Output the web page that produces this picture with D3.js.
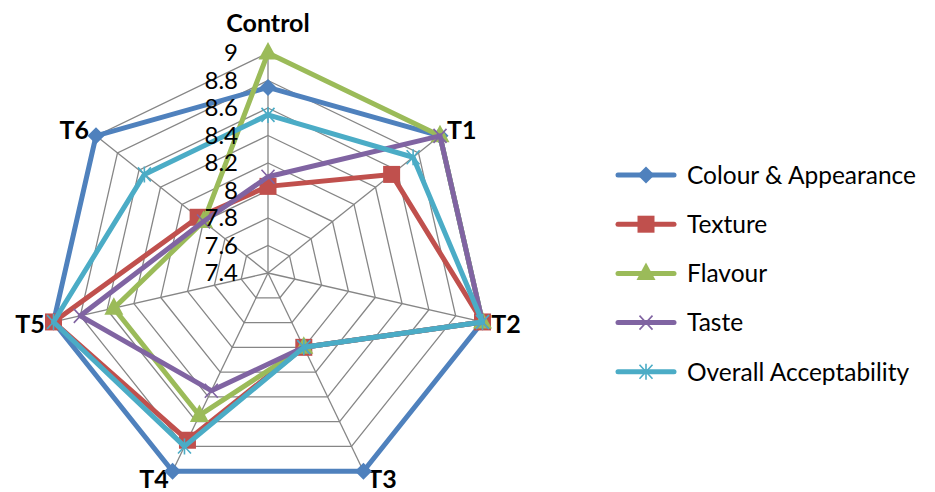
<!DOCTYPE html>
<html>
<head>
<meta charset="utf-8">
<script src="https://cdn.jsdelivr.net/npm/d3@7"></script>
<style>
  html, body { margin: 0; padding: 0; background: #fff; }
  svg { display: block; font-family: Lato, 'Open Sans', sans-serif; }
</style>
</head>
<body>
<svg id="chart" width="935" height="492"></svg>
<script>
'use strict';

// categories (spokes), clockwise from the top
const categories = [ 'Control', 'T1', 'T2', 'T3', 'T4', 'T5', 'T6' ];

// sensory scores per treatment
const colourAppearance      = [ 8.75, 9.00, 9.00, 9.00, 9.00, 9.00, 9.00 ];
const texture               = [ 8.03, 8.55, 9.00, 8.00, 8.75, 9.00, 8.05 ];
const flavour               = [ 9.00, 9.00, 9.00, 8.00, 8.55, 8.55, 8.00 ];
const taste                 = [ 8.10, 9.00, 9.00, 8.00, 8.35, 8.80, 8.00 ];
const overallAcceptability  = [ 8.55, 8.75, 9.00, 8.00, 8.80, 9.00, 8.55 ];

// radial axis tick labels
const tickValues = [ 7.4, 7.6, 7.8, 8.0, 8.2, 8.4, 8.6, 8.8, 9.0 ];
const tickLabels = [ '7.4', '7.6', '7.8', '8', '8.2', '8.4', '8.6', '8.8', '9' ];

const seriesNames = [ 'Colour & Appearance', 'Texture', 'Flavour', 'Taste', 'Overall Acceptability' ];

const series = [
  { name: seriesNames[0], values: colourAppearance,     color: '#4F81BD', marker: 'diamond' },
  { name: seriesNames[1], values: texture,              color: '#C0504D', marker: 'square' },
  { name: seriesNames[2], values: flavour,              color: '#9BBB59', marker: 'triangle' },
  { name: seriesNames[3], values: taste,                color: '#8064A2', marker: 'x' },
  { name: seriesNames[4], values: overallAcceptability, color: '#4BACC6', marker: 'asterisk' }
];

const param = {
  cx:     268,
  cy:     273,
  radius: 220
};

const svg = d3.select( '#chart' );

const r = d3.scaleLinear()
            .domain( [ tickValues[0], tickValues[ tickValues.length - 1 ] ] )
            .range( [ 0, param.radius ] );

const angle = d3.scalePoint()
                .domain( categories.concat( [ '_end' ] ) )
                .range( [ 0, 2 * Math.PI ] );

const plot = svg.append( 'g' )
                .attr( 'transform', `translate(${param.cx},${param.cy})` );

// grid rings
plot.append( 'g' )
    .attr( 'class', 'rings' )
  .selectAll( 'path' )
    .data( tickValues.slice( 1 ) )
  .enter().append( 'path' )
    .attr( 'd', (v) => d3.lineRadial()
                         .angle( (c) => angle( c ) )
                         .radius( r( v ) )
                         .curve( d3.curveLinearClosed )( categories ) )
    .style( 'fill', 'none' )
    .style( 'stroke', '#868686' )
    .style( 'stroke-width', 1.3 );

// spokes
plot.append( 'g' )
    .attr( 'class', 'spokes' )
  .selectAll( 'line' )
    .data( categories )
  .enter().append( 'line' )
    .attr( 'x1', 0 )
    .attr( 'y1', 0 )
    .attr( 'x2', (c) => r.range()[1] * Math.sin( angle( c ) ) )
    .attr( 'y2', (c) => -r.range()[1] * Math.cos( angle( c ) ) )
    .style( 'stroke', '#868686' )
    .style( 'stroke-width', 1.3 );

// category labels
plot.append( 'g' )
    .attr( 'class', 'cat-labels' )
  .selectAll( 'text' )
    .data( categories )
  .enter().append( 'text' )
    .attr( 'x', (c) => (param.radius + 9) * Math.sin( angle( c ) ) )
    .attr( 'y', (c, i) => -(param.radius + 9) * Math.cos( angle( c ) ) - (i == 0 ? 21 : 0) )
    .attr( 'dy', '0.36em' )
    .style( 'text-anchor', (c) => {
      const s = Math.sin( angle( c ) );
      return s > 0.1 ? 'start' : ( s < -0.1 ? 'end' : 'middle' );
    })
    .style( 'font-weight', 'bold' )
    .style( 'font-size', '25px' )
    .style( 'fill', '#000' )
    .text( (c) => c );

// marker shapes
function markerPath( type ) {
  switch( type ) {
    case 'diamond':  return 'M0,-8.5L8.5,0L0,8.5L-8.5,0Z';
    case 'square':   return 'M-8.5,-8.5H8.5V8.5H-8.5Z';
    case 'triangle': return 'M0,-11L9.5,6.5H-9.5Z';
    case 'x':        return 'M-6.5,-7L6.5,7M-6.5,7L6.5,-7';
    case 'asterisk': return 'M-6.5,-7L6.5,7M-6.5,7L6.5,-7M0,-8V8';
  }
}
const filled = (type) => [ 'diamond', 'square', 'triangle' ].includes( type );

const radarLine = d3.lineRadial()
                    .angle( (d, i) => angle( categories[ i ] ) )
                    .radius( (d) => r( d ) )
                    .curve( d3.curveLinearClosed );

const seriesG = plot.append( 'g' )
                    .attr( 'class', 'series' )
                  .selectAll( 'g' )
                    .data( series )
                  .enter().append( 'g' );

seriesG.append( 'path' )
    .attr( 'd', (s) => radarLine( s.values ) )
    .style( 'fill', 'none' )
    .style( 'stroke', (s) => s.color )
    .style( 'stroke-width', 5 )
    .style( 'stroke-linejoin', 'round' );

seriesG.selectAll( '.marker' )
    .data( (s) => s.values.map( (v, i) => ({ v: v, c: categories[ i ], s: s }) ) )
  .enter().append( 'path' )
    .attr( 'class', 'marker' )
    .attr( 'transform', (d) => `translate(${r( d.v ) * Math.sin( angle( d.c ) )},${-r( d.v ) * Math.cos( angle( d.c ) )})` )
    .attr( 'd', (d) => markerPath( d.s.marker ) )
    .style( 'fill', (d) => filled( d.s.marker ) ? d.s.color : 'none' )
    .style( 'stroke', (d) => d.s.color )
    .style( 'stroke-width', (d) => filled( d.s.marker ) ? 0 : 1.6 );

// tick labels sit above the series
plot.append( 'g' )
    .attr( 'class', 'tick-labels' )
  .selectAll( 'text' )
    .data( tickValues )
  .enter().append( 'text' )
    .attr( 'x', -30 )
    .attr( 'y', (v) => -r( v ) )
    .attr( 'dy', '0.34em' )
    .style( 'text-anchor', 'end' )
    .style( 'font-size', '24px' )
    .style( 'fill', '#000' )
    .text( (v, i) => tickLabels[ i ] );

// legend
const legend = svg.append( 'g' )
                  .attr( 'class', 'legend' )
                  .attr( 'transform', 'translate(618,175)' );

const item = legend.selectAll( 'g' )
                   .data( series )
                 .enter().append( 'g' )
                   .attr( 'transform', (s, i) => `translate(0,${i * 49.2})` );

item.append( 'line' )
    .attr( 'x1', 0 )
    .attr( 'x2', 56 )
    .style( 'stroke', (s) => s.color )
    .style( 'stroke-width', 5 )
    .style( 'stroke-linecap', 'round' );

item.append( 'path' )
    .attr( 'transform', 'translate(28,0)' )
    .attr( 'd', (s) => markerPath( s.marker ) )
    .style( 'fill', (s) => filled( s.marker ) ? s.color : 'none' )
    .style( 'stroke', (s) => s.color )
    .style( 'stroke-width', (s) => filled( s.marker ) ? 0 : 1.6 );

item.append( 'text' )
    .attr( 'x', 69 )
    .attr( 'dy', '0.36em' )
    .style( 'font-size', '24.5px' )
    .style( 'fill', '#000' )
    .text( (s) => s.name );
</script>
</body>
</html>
